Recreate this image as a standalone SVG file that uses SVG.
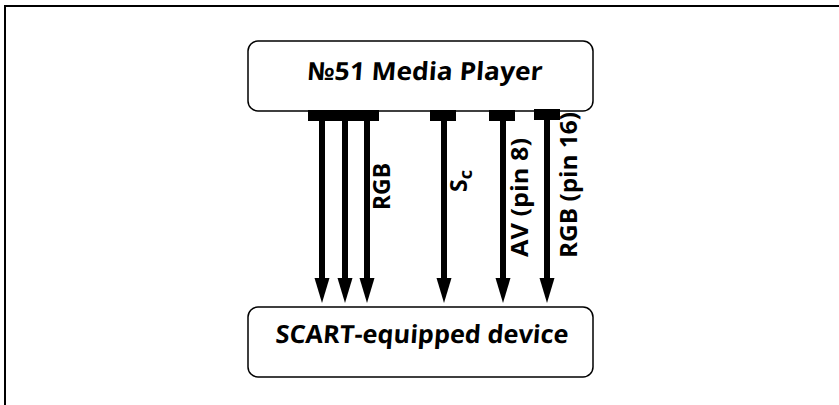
<svg xmlns="http://www.w3.org/2000/svg" width="839" height="405" viewBox="0 0 839 405">
<defs>
<style>
.frame{fill:none;stroke:#000;stroke-width:2}
.box{fill:#fff;stroke:#000;stroke-width:1.5}
.title{font-family:"Open Sans","DejaVu Sans",sans-serif;font-weight:700;font-size:25px;fill:#000}
.lbl{font-family:"Open Sans","DejaVu Sans",sans-serif;font-weight:700;font-size:23px;fill:#000}
.pad{fill:#000}
</style>
</defs>
<rect class="frame" x="5" y="6" width="850" height="420"/>
<g id="player">
<rect class="box" x="248" y="41" width="345" height="70" rx="10"/>
<text class="title" transform="translate(307,80) skewX(-4)" textLength="235" lengthAdjust="spacingAndGlyphs">№51 Media Player</text>
</g>
<g id="scart">
<rect class="box" x="248" y="307" width="345" height="70" rx="10"/>
<text class="title" transform="translate(275,343) skewX(-4)" textLength="293" lengthAdjust="spacingAndGlyphs">SCART-equipped device</text>
</g>
<g id="connectors">
<rect class="pad" x="308" y="110" width="71" height="11"/>
<rect class="pad" x="430" y="110" width="26" height="11"/>
<rect class="pad" x="489" y="110" width="26" height="11"/>
<rect class="pad" x="534" y="109" width="26" height="11"/>
<g fill="#000">
<rect x="319" y="121" width="6" height="158"/><path d="M314.5,278 L329.5,278 L322,303 Z"/>
<rect x="342" y="121" width="6" height="158"/><path d="M337.5,278 L352.5,278 L345,303 Z"/>
<rect x="364" y="121" width="6" height="158"/><path d="M359.5,278 L374.5,278 L367,303 Z"/>
<rect x="441" y="121" width="6" height="158"/><path d="M436.5,278 L451.5,278 L444,303 Z"/>
<rect x="500" y="121" width="6" height="158"/><path d="M495.5,278 L510.5,278 L503,303 Z"/>
<rect x="544" y="120" width="6" height="159"/><path d="M539.5,278 L554.5,278 L547,303 Z"/>
</g>
<text class="lbl" transform="translate(390,210) rotate(-90)" textLength="47" lengthAdjust="spacingAndGlyphs">RGB</text>
<text class="lbl" transform="translate(467,192) rotate(-90)" font-size="24">S<tspan font-size="18" dy="5">c</tspan></text>
<text class="lbl" transform="translate(528,257) rotate(-90)" textLength="119" lengthAdjust="spacingAndGlyphs">AV (pin 8)</text>
<text class="lbl" transform="translate(577,258) rotate(-90)" textLength="146" lengthAdjust="spacingAndGlyphs">RGB (pin 16)</text>
</g>
</svg>
